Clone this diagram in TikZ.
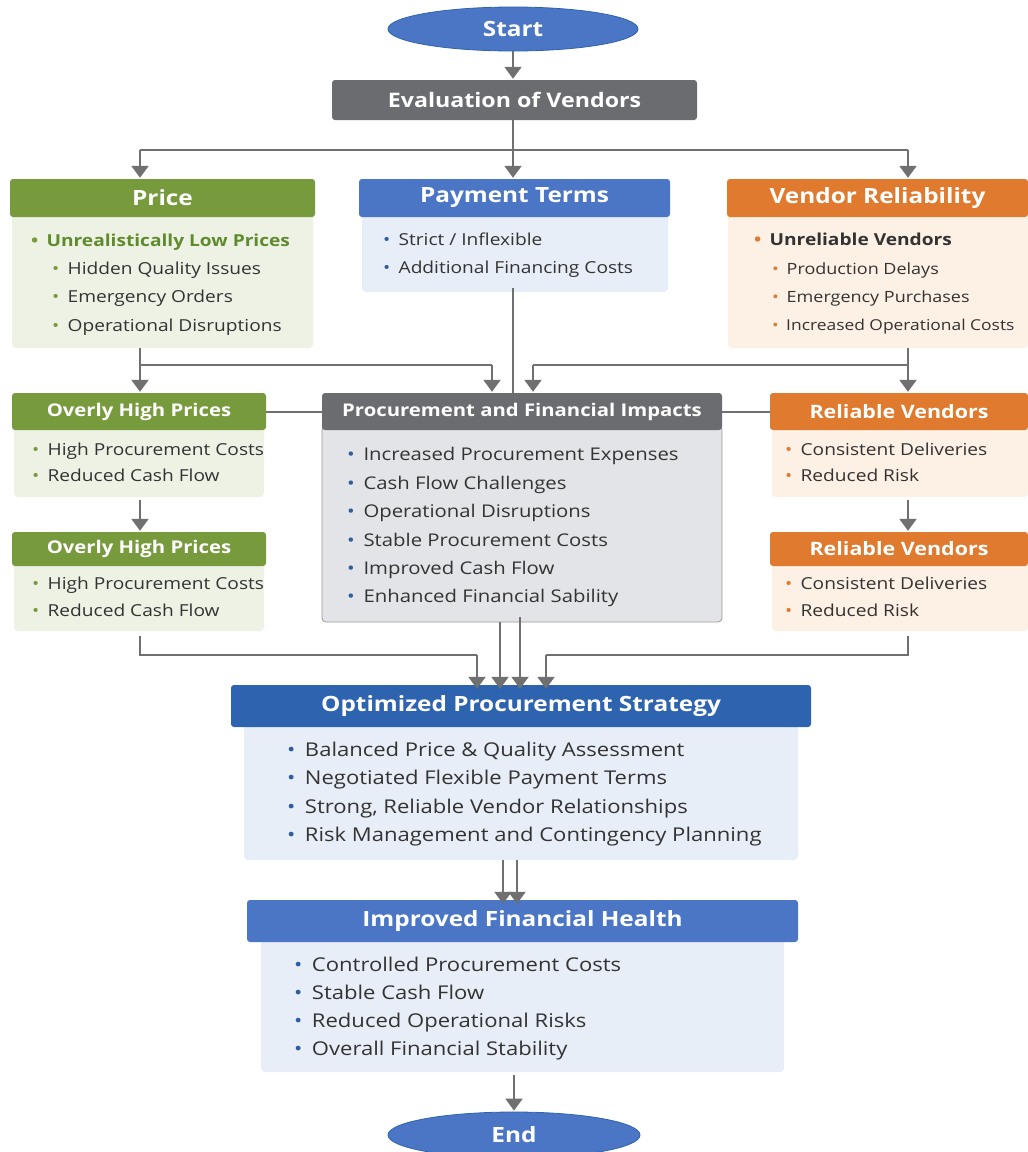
\documentclass[tikz,border=0pt]{standalone}
\usepackage{fontspec}
\setmainfont{Open Sans}[FakeStretch=1.16]
\usetikzlibrary{arrows.meta,shapes.geometric}

\definecolor{pgreen}{HTML}{779A3D}
\definecolor{pgreenbg}{HTML}{EEF2E5}
\definecolor{pgreentx}{HTML}{5F8B2E}
\definecolor{pblue}{HTML}{4A76C5}
\definecolor{pbluebg}{HTML}{E8EEF7}
\definecolor{pbluedk}{HTML}{2D63AF}
\definecolor{pbullet}{HTML}{2F5E9E}
\definecolor{porange}{HTML}{E07A2E}
\definecolor{porangebg}{HTML}{FDF0E4}
\definecolor{pgray}{HTML}{6B6C70}
\definecolor{pgraybg}{HTML}{E3E4E7}
\definecolor{ptext}{HTML}{333333}
\definecolor{parrow}{HTML}{707070}

\newcommand{\fsz}[1]{\fontsize{#1}{#1}\selectfont}
\newcommand{\bul}[1]{\textcolor{#1}{\textbullet}\hspace{0.5em}}

\tikzset{
  hdr/.style={rounded corners=3pt, text=white, font=\bfseries, inner sep=0pt},
  bdy/.style={rounded corners=4pt, inner sep=0pt},
  itm/.style={anchor=base west, yshift=-6pt, inner sep=0pt, text=ptext},
  oval/.style={ellipse, fill=pblue, draw=pbluedk, line width=0.8pt, text=white, font=\bfseries\fsz{21}, inner sep=0pt},
  lnk/.style={draw=parrow, line width=2pt},
  arr/.style={draw=parrow, line width=2pt, -{Triangle[width=17pt,length=12pt]}, shorten >=1pt},
}

\begin{document}
\begin{tikzpicture}[x=1pt,y=-1pt]
\useasboundingbox[fill=white] (0,0) rectangle (1028,1152);

% top
\node[oval, minimum width=250pt, minimum height=44pt] (start) at (513,29) {Start};
\node[hdr, fill=pgray, minimum width=365pt, minimum height=40pt, font=\bfseries\fsz{20}] (eval) at (514.5,100) {Evaluation of Vendors};

% first row
\node[bdy, fill=pgreenbg, minimum width=301pt, minimum height=135pt] (pricebd) at (162.5,280.5) {};
\node[hdr, fill=pgreen, minimum width=305pt, minimum height=38pt, font=\bfseries\fsz{21}] (pricehd) at (162.5,198) {Price};
\node[itm, text=pgreentx, font=\bfseries\fsz{16.5}] (p1) at (31,240) {\bul{pgreen}Unrealistically Low Prices};
\node[itm, font=\fsz{16.5}] (p2) at (52,268) {\bul{pgreen}Hidden Quality Issues};
\node[itm, font=\fsz{16.5}] (p3) at (52,296) {\bul{pgreen}Emergency Orders};
\node[itm, font=\fsz{16.5}] (p4) at (52,325) {\bul{pgreen}Operational Disruptions};

\node[bdy, fill=pbluebg, minimum width=306pt, minimum height=79pt] (paybd) at (515,252.5) {};
\node[hdr, fill=pblue, minimum width=311pt, minimum height=38pt, font=\bfseries\fsz{21}] (payhd) at (514.5,198) {Payment Terms};
\node[itm, font=\fsz{16.5}] (t1) at (383,239) {\bul{pbullet}Strict / Inflexible};
\node[itm, font=\fsz{16.5}] (t2) at (383,267) {\bul{pbullet}Additional Financing Costs};

\node[bdy, fill=porangebg, minimum width=300pt, minimum height=135pt] (venbd) at (878,280.5) {};
\node[hdr, fill=porange, minimum width=301pt, minimum height=38pt, font=\bfseries\fsz{21}] (venhd) at (877.5,198) {Vendor Reliability};
\node[itm, font=\bfseries\fsz{16.5}] (v1) at (754,239) {\bul{porange}Unreliable Vendors};
\node[itm, font=\fsz{15.5}] (v2) at (772,268) {\bul{porange}Production Delays};
\node[itm, font=\fsz{15.5}] (v3) at (772,296) {\bul{porange}Emergency Purchases};
\node[itm, font=\fsz{15}] (v4) at (772,324) {\bul{porange}Increased Operational Costs};

% second row
\node[bdy, fill=pgreenbg, minimum width=250pt, minimum height=71pt] (over1bd) at (139,461.5) {};
\node[hdr, fill=pgreen, minimum width=254pt, minimum height=37pt, font=\bfseries\fsz{17.5}] (over1hd) at (139,411.5) {Overly High Prices};
\node[itm, font=\fsz{16.5}] (o1) at (32,449) {\bul{pgreen}High Procurement Costs};
\node[itm, font=\fsz{16.5}] (o2) at (32,475) {\bul{pgreen}Reduced Cash Flow};

\node[bdy, fill=pgreenbg, minimum width=250pt, minimum height=69pt] (over2bd) at (139,596.5) {};
\node[hdr, fill=pgreen, minimum width=254pt, minimum height=34pt, font=\bfseries\fsz{17.5}] (over2hd) at (139,549) {Overly High Prices};
\node[itm, font=\fsz{16.5}] (o3) at (32,583) {\bul{pgreen}High Procurement Costs};
\node[itm, font=\fsz{16.5}] (o4) at (32,610) {\bul{pgreen}Reduced Cash Flow};

\node[bdy, fill=pgraybg, draw=parrow!70, line width=0.8pt, minimum width=400pt, minimum height=196pt] (procbd) at (522,524) {};
\node[hdr, fill=pgray, minimum width=400pt, minimum height=37pt, font=\bfseries\fsz{17.5}] (prochd) at (522,411.5) {Procurement and Financial Impacts};
\node[itm, font=\fsz{17.5}] (c1) at (347,454) {\bul{pbullet}Increased Procurement Expenses};
\node[itm, font=\fsz{17.5}] (c2) at (347,483) {\bul{pbullet}Cash Flow Challenges};
\node[itm, font=\fsz{17.5}] (c3) at (347,511) {\bul{pbullet}Operational Disruptions};
\node[itm, font=\fsz{17.5}] (c4) at (347,540) {\bul{pbullet}Stable Procurement Costs};
\node[itm, font=\fsz{17.5}] (c5) at (347,568) {\bul{pbullet}Improved Cash Flow};
\node[itm, font=\fsz{17.5}] (c6) at (347,596) {\bul{pbullet}Enhanced Financial Sability};

\node[bdy, fill=porangebg, minimum width=256pt, minimum height=71pt] (rel1bd) at (900,461.5) {};
\node[hdr, fill=porange, minimum width=258pt, minimum height=37pt, font=\bfseries\fsz{18.5}] (rel1hd) at (899,411.5) {Reliable Vendors};
\node[itm, font=\fsz{16.5}] (r1) at (785,449) {\bul{porange}Consistent Deliveries};
\node[itm, font=\fsz{16.5}] (r2) at (785,475) {\bul{porange}Reduced Risk};

\node[bdy, fill=porangebg, minimum width=256pt, minimum height=69pt] (rel2bd) at (900,596.5) {};
\node[hdr, fill=porange, minimum width=258pt, minimum height=34pt, font=\bfseries\fsz{18.5}] (rel2hd) at (899,549) {Reliable Vendors};
\node[itm, font=\fsz{16.5}] (r3) at (785,583) {\bul{porange}Consistent Deliveries};
\node[itm, font=\fsz{16.5}] (r4) at (785,610) {\bul{porange}Reduced Risk};

% strategy and result
\node[bdy, fill=pbluebg, minimum width=554pt, minimum height=137pt] (optbd) at (521,791.5) {};
\node[hdr, fill=pbluedk, minimum width=580pt, minimum height=42pt, font=\bfseries\fsz{21}] (opthd) at (521,706) {Optimized Procurement Strategy};
\node[itm, font=\fsz{19}] (s1) at (287,750) {\bul{pbullet}Balanced Price \& Quality Assessment};
\node[itm, font=\fsz{19}] (s2) at (287,778) {\bul{pbullet}Negotiated Flexible Payment Terms};
\node[itm, font=\fsz{19}] (s3) at (287,807) {\bul{pbullet}Strong, Reliable Vendor Relationships};
\node[itm, font=\fsz{19}] (s4) at (287,835) {\bul{pbullet}Risk Management and Contingency Planning};

\node[bdy, fill=pbluebg, minimum width=523pt, minimum height=134pt] (impbd) at (522.5,1005) {};
\node[hdr, fill=pblue, minimum width=551pt, minimum height=42pt, font=\bfseries\fsz{21}] (imphd) at (522.5,921) {Improved Financial Health};
\node[itm, font=\fsz{19}] (h1) at (294,965) {\bul{pbullet}Controlled Procurement Costs};
\node[itm, font=\fsz{19}] (h2) at (294,993) {\bul{pbullet}Stable Cash Flow};
\node[itm, font=\fsz{19}] (h3) at (294,1021) {\bul{pbullet}Reduced Operational Risks};
\node[itm, font=\fsz{19}] (h4) at (294,1049) {\bul{pbullet}Overall Financial Stability};

\node[oval, minimum width=252pt, minimum height=46pt] (end) at (514,1135) {End};

% connectors
\coordinate (split) at (513,150);
\coordinate (colL) at (140,150);
\coordinate (colR) at (908,150);
\coordinate (joinL) at (140,365);
\coordinate (joinR) at (908,365);
\coordinate (inL) at (492,365);
\coordinate (inR) at (533,365);
\coordinate (payout) at (513,288);
\coordinate (lowL) at (140,655);
\coordinate (lowR) at (908,655);
\coordinate (dropL) at (477,655);
\coordinate (dropR) at (546,655);
\coordinate (procA) at (500,622);
\coordinate (procB) at (520,617);
\coordinate (optA) at (503,860);
\coordinate (optB) at (517,860);

\draw[arr] (start.south) -- (start.south |- eval.north);
\draw[lnk] (eval.south -| split) -- (split);
\draw[lnk] (colL) -- (colR);
\draw[arr] (colL) -- (colL |- pricehd.north);
\draw[arr] (split) -- (split |- payhd.north);
\draw[arr] (colR) -- (colR |- venhd.north);

\draw[arr] (pricebd.south -| joinL) -- (joinL |- over1hd.north);
\draw[lnk] (joinL) -- (inL);
\draw[arr] (inL) -- (inL |- prochd.north);
\draw[lnk] (payout) -- (payout |- prochd.north);
\draw[arr] (venbd.south -| joinR) -- (joinR |- rel1hd.north);
\draw[lnk] (joinR) -- (inR);
\draw[arr] (inR) -- (inR |- prochd.north);
\draw[lnk] (over1hd.east) -- (prochd.west);
\draw[lnk] (rel1hd.west) -- (prochd.east);
\draw[arr] ([yshift=-3pt]over1bd.south -| joinL) -- (joinL |- over2hd.north);
\draw[arr] ([yshift=-3pt]rel1bd.south -| joinR) -- (joinR |- rel2hd.north);

\draw[lnk] ([yshift=-5pt]over2bd.south -| lowL) -- (lowL) -- (dropL);
\draw[arr] (dropL) -- ([yshift=-5pt]dropL |- opthd.north);
\draw[arr] (procA) -- ([yshift=-5pt]procA |- opthd.north);
\draw[arr] (procB) -- ([yshift=-5pt]procB |- opthd.north);
\draw[lnk] ([yshift=-5pt]rel2bd.south -| lowR) -- (lowR) -- (dropR);
\draw[arr] (dropR) -- ([yshift=-5pt]dropR |- opthd.north);

\draw[arr] (optA) -- ([yshift=-5pt]optA |- imphd.north);
\draw[arr] (optB) -- ([yshift=-5pt]optB |- imphd.north);
\draw[arr] ([yshift=-3pt]impbd.south -| end) -- (end.north);
\end{tikzpicture}
\end{document}
